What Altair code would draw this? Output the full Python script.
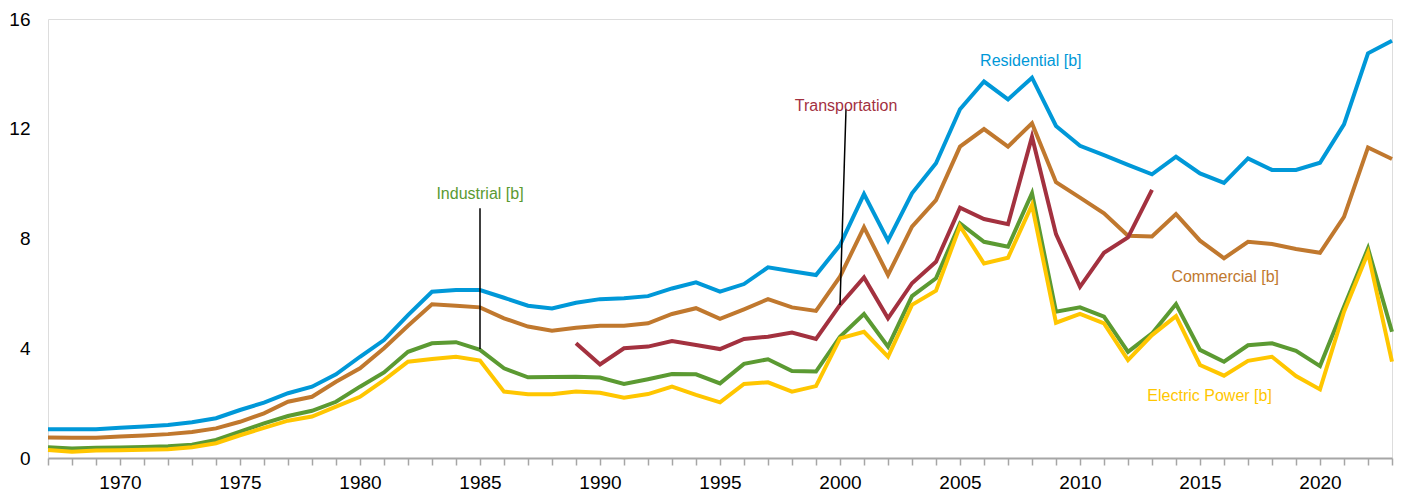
import altair as alt
import pandas as pd

years = list(range(1967, 2024))

residential = [1.05, 1.05, 1.05, 1.10, 1.15, 1.20, 1.30, 1.45, 1.75, 2.02, 2.36, 2.60, 3.05,
               3.69, 4.30, 5.21, 6.06, 6.12, 6.12, 5.84, 5.55, 5.45, 5.66, 5.79, 5.82,
               5.90, 6.18, 6.40, 6.06, 6.34, 6.95, 6.81, 6.67, 7.76, 9.62, 7.92, 9.65,
               10.74, 12.71, 13.72, 13.07, 13.86, 12.10, 11.38, 11.04, 10.68, 10.34,
               10.98, 10.37, 10.03, 10.92, 10.50, 10.50, 10.76, 12.16, 14.75, 15.21]

commercial = [0.75, 0.74, 0.74, 0.78, 0.82, 0.87, 0.95, 1.08, 1.32, 1.63, 2.05, 2.23, 2.78,
              3.27, 4.00, 4.82, 5.60, 5.55, 5.49, 5.09, 4.79, 4.64, 4.75, 4.82, 4.82,
              4.91, 5.25, 5.46, 5.07, 5.42, 5.79, 5.49, 5.36, 6.61, 8.41, 6.67, 8.43,
              9.40, 11.35, 11.99, 11.35, 12.20, 10.05, 9.49, 8.92, 8.10, 8.07,
              8.89, 7.92, 7.28, 7.88, 7.80, 7.62, 7.48, 8.79, 11.32, 10.90]

industrial = [0.39, 0.35, 0.37, 0.38, 0.40, 0.43, 0.48, 0.66, 0.96, 1.26, 1.53, 1.72, 2.05,
              2.60, 3.12, 3.87, 4.18, 4.22, 3.94, 3.27, 2.94, 2.95, 2.96, 2.93, 2.70,
              2.87, 3.06, 3.05, 2.72, 3.43, 3.60, 3.17, 3.15, 4.42, 5.25, 4.06, 5.90,
              6.55, 8.55, 7.88, 7.70, 9.65, 5.33, 5.49, 5.15, 3.87, 4.54,
              5.61, 3.94, 3.51, 4.11, 4.18, 3.91, 3.35, 5.51, 7.64, 4.60]

electric_power = [0.29, 0.23, 0.27, 0.28, 0.30, 0.32, 0.39, 0.54, 0.83, 1.10, 1.36, 1.51, 1.87,
                  2.23, 2.84, 3.51, 3.61, 3.69, 3.55, 2.42, 2.32, 2.32, 2.42, 2.38, 2.20,
                  2.33, 2.60, 2.30, 2.03, 2.70, 2.76, 2.42, 2.62, 4.36, 4.60, 3.69, 5.58,
                  6.10, 8.45, 7.09, 7.30, 9.22, 4.93, 5.25, 4.91, 3.57, 4.48,
                  5.17, 3.39, 3.00, 3.54, 3.69, 2.99, 2.50, 5.33, 7.48, 3.51]

transport_years = list(range(1989, 2014))
transportation = [4.18, 3.41, 4.00, 4.06, 4.26, 4.12, 3.97, 4.34, 4.42, 4.57, 4.34,
                  5.58, 6.58, 5.09, 6.37, 7.15, 9.12, 8.71, 8.52, 11.71, 8.16, 6.24,
                  7.48, 8.04, 9.77]

series_names = ["Residential", "Commercial", "Industrial", "Electric Power", "Transportation"]
series_colors = ["#0098D8", "#C0782E", "#5B9A32", "#FFC600", "#A3313F"]

label_texts = ["Residential [b]", "Commercial [b]", "Industrial [b]", "Electric Power [b]", "Transportation"]
label_x = [2007.95, 2016.05, 1985.0, 2015.4, 2000.25]
label_y = [14.47, 6.6, 9.62, 2.26, 12.83]

leader_x = [1985.0, 2000.25]
leader_y = [9.1, 12.72]
leader_x2 = [1985.0, 2000.0]
leader_y2 = [3.97, 5.58]

x_ticks = years
y_ticks = [0, 4, 8, 12, 16]

font = "Liberation Sans"

x_scale = alt.Scale(domain=[1967, 2023], nice=False, zero=False)
y_scale = alt.Scale(domain=[0, 16], nice=False)

x_axis = alt.Axis(values=x_ticks, format="d", title=None,
                  labelExpr="datum.value % 5 == 0 ? datum.label : ''",
                  labelOverlap=False, labelFlush=False, grid=False,
                  domainColor="#A6A6A6", domainWidth=2, tickColor="#A6A6A6",
                  tickWidth=1.5, tickSize=7, labelPadding=8, labelFontSize=19,
                  labelColor="#000000", labelFont=font)
y_axis = alt.Axis(values=y_ticks, title=None, grid=False, domain=False,
                  ticks=False, tickSize=0, labelPadding=18, labelFontSize=19,
                  labelColor="#000000", labelFont=font)

data_map = {
    "Residential": (years, residential),
    "Commercial": (years, commercial),
    "Industrial": (years, industrial),
    "Electric Power": (years, electric_power),
    "Transportation": (transport_years, transportation),
}

layers = []
for name, color in zip(series_names, series_colors):
    xs, vs = data_map[name]
    df = pd.DataFrame({"year": xs, "value": vs})
    layers.append(
        alt.Chart(df).mark_line(color=color, strokeWidth=4, strokeJoin="miter").encode(
            x=alt.X("year:Q", scale=x_scale, axis=x_axis),
            y=alt.Y("value:Q", scale=y_scale, axis=y_axis),
        )
    )

lead_df = pd.DataFrame({"x": leader_x, "y": leader_y, "x2": leader_x2, "y2": leader_y2})
layers.append(
    alt.Chart(lead_df).mark_rule(color="#000000", strokeWidth=1.5).encode(
        x=alt.X("x:Q", scale=x_scale, axis=x_axis),
        y=alt.Y("y:Q", scale=y_scale, axis=y_axis),
        x2="x2:Q", y2="y2:Q",
    )
)

label_colors = {"Residential [b]": series_colors[0], "Commercial [b]": series_colors[1],
                "Industrial [b]": series_colors[2], "Electric Power [b]": series_colors[3],
                "Transportation": series_colors[4]}
for t, lx, ly in zip(label_texts, label_x, label_y):
    df = pd.DataFrame({"x": [lx], "y": [ly], "t": [t]})
    layers.append(
        alt.Chart(df).mark_text(color=label_colors[t], fontSize=16, font=font,
                                align="center", baseline="middle").encode(
            x=alt.X("x:Q", scale=x_scale, axis=x_axis),
            y=alt.Y("y:Q", scale=y_scale, axis=y_axis),
            text="t:N",
        )
    )

chart = alt.layer(*layers).properties(
    width=1344, height=439,
    padding={"left": 40, "top": 11, "right": 2, "bottom": 39},
    autosize=alt.AutoSizeParams(type="none"),
).configure_view(stroke=None).configure(background="#FFFFFF")

chart.save("out.html", embed_options={"renderer": "svg", "actions": False})
